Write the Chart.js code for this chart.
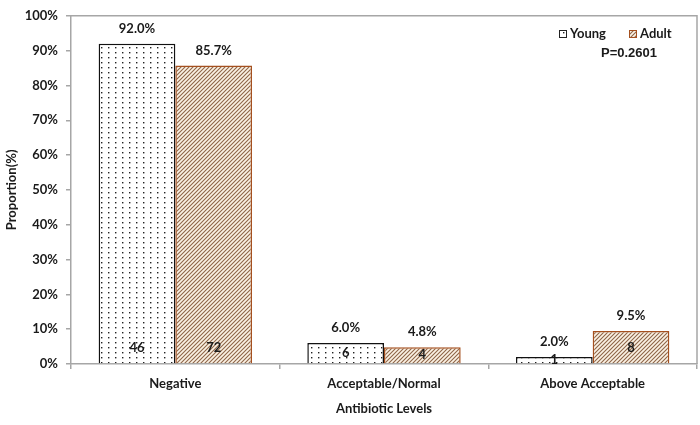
<!DOCTYPE html>
<html lang="en">
<head>
<meta charset="UTF-8">
<script src="https://cdn.jsdelivr.net/npm/chart.js"></script>
<title>Antibiotic Levels</title>
<style>
  body { margin: 0; background: #fff; }
  canvas { display: block; }
</style>
</head>
<body>
<canvas id="chart" width="700" height="425"></canvas>
<script>
// data
const categories = ['Negative', 'Acceptable/Normal', 'Above Acceptable'];
const youngPct = [92.0, 6.0, 2.0];
const adultPct = [85.7, 4.8, 9.5];
const youngCount = [46, 6, 1];
const adultCount = [72, 4, 8];
const yTicks = [0, 10, 20, 30, 40, 50, 60, 70, 80, 90, 100];
const pValue = 'P=0.2601';

const brown = '#a5501f';
const axisGray = '#a6a6a6';
const textColor = '#1a1a1a';
const labelFont = 'bold 13px Lato, "Open Sans", sans-serif';

// dotted fill for Young
function dotPattern() {
    const c = document.createElement('canvas');
    c.width = 7; c.height = 5;
    const g = c.getContext('2d');
    g.fillStyle = '#fff';
    g.fillRect(0, 0, 7, 5);
    g.fillStyle = '#222';
    g.fillRect(3, 2, 1.4, 1.4);
    return g.createPattern(c, 'repeat');
}

// diagonal hatch for Adult
function hatchPattern() {
    const s = 4;
    const c = document.createElement('canvas');
    c.width = s; c.height = s;
    const g = c.getContext('2d');
    g.fillStyle = '#fbf2e4';
    g.fillRect(0, 0, s, s);
    g.strokeStyle = '#8e6548';
    g.lineWidth = 1.1;
    g.beginPath();
    g.moveTo(0, s); g.lineTo(s, 0);
    g.moveTo(-1, 1); g.lineTo(1, -1);
    g.moveTo(s - 1, s + 1); g.lineTo(s + 1, s - 1);
    g.stroke();
    return g.createPattern(c, 'repeat');
}

const dots = dotPattern();
const hatch = hatchPattern();

const labelsPlugin = {
    id: 'barLabels',
    afterDatasetsDraw(chart) {
        const ctx = chart.ctx;
        const counts = [youngCount, adultCount];
        ctx.save();
        ctx.font = labelFont;
        ctx.fillStyle = textColor;
        ctx.textAlign = 'center';
        ctx.textBaseline = 'middle';
        chart.data.datasets.forEach((ds, di) => {
            chart.getDatasetMeta(di).data.forEach((bar, i) => {
                ctx.fillText(ds.data[i].toFixed(1) + '%', bar.x, bar.y - 15);
                const cy = Math.max(bar.base - 15, (bar.y + bar.base) / 2);
                ctx.fillText(String(counts[di][i]), bar.x, cy);
            });
        });
        ctx.restore();
    },
    afterDraw(chart) {
        const ctx = chart.ctx;
        const a = chart.chartArea;
        ctx.save();
        // top and right frame
        ctx.strokeStyle = axisGray;
        ctx.lineWidth = 1.5;
        ctx.beginPath();
        ctx.moveTo(a.left, a.top);
        ctx.lineTo(a.right, a.top);
        ctx.lineTo(a.right, a.bottom);
        ctx.stroke();

        // legend
        ctx.font = labelFont;
        ctx.fillStyle = textColor;
        ctx.textBaseline = 'middle';
        ctx.textAlign = 'left';
        const ly = 34;
        ctx.fillStyle = dots;
        ctx.fillRect(559, ly - 4, 8, 8);
        ctx.strokeStyle = '#222';
        ctx.lineWidth = 1;
        ctx.strokeRect(559.5, ly - 3.5, 7, 7);
        ctx.fillStyle = textColor;
        ctx.fillText('Young', 570, ly);

        ctx.fillStyle = hatch;
        ctx.fillRect(629, ly - 4, 8, 8);
        ctx.strokeStyle = brown;
        ctx.strokeRect(629.5, ly - 3.5, 7, 7);
        ctx.fillStyle = textColor;
        ctx.fillText('Adult', 640, ly);

        ctx.font = 'bold 13px "Liberation Sans", Arial, sans-serif';
        ctx.fillText(pValue, 601, 53);
        ctx.restore();
    }
};

new Chart(document.getElementById('chart'), {
    type: 'bar',
    data: {
        labels: categories,
        datasets: [
            {
                label: 'Young',
                data: youngPct,
                backgroundColor: dots,
                borderColor: '#111',
                borderWidth: 1.5,
                borderSkipped: 'bottom'
            },
            {
                label: 'Adult',
                data: adultPct,
                backgroundColor: hatch,
                borderColor: brown,
                borderWidth: 1.5,
                borderSkipped: 'bottom'
            }
        ]
    },
    options: {
        responsive: false,
        animation: false,
        events: [],
        layout: { padding: { left: 4, top: 12, right: 3, bottom: 4 } },
        datasets: {
            bar: { categoryPercentage: 0.735, barPercentage: 1 }
        },
        plugins: {
            legend: { display: false },
            tooltip: { enabled: false }
        },
        scales: {
            x: {
                grid: { display: true, drawOnChartArea: false, offset: true, tickLength: 5, color: axisGray, lineWidth: 1.5 },
                border: { color: axisGray, width: 1.5 },
                ticks: { color: textColor, font: { family: 'Lato', size: 13, weight: 'bold' }, padding: 7 },
                title: {
                    display: true,
                    text: 'Antibiotic Levels',
                    color: textColor,
                    font: { family: 'Lato', size: 13, weight: 'bold' },
                    padding: { top: 14 }
                },
                afterFit(scale) { scale.height = 57; }
            },
            y: {
                min: 0,
                max: 100,
                afterBuildTicks(scale) { scale.ticks = yTicks.map(v => ({ value: v })); },
                grid: { display: true, drawOnChartArea: false, tickLength: 5, color: axisGray, lineWidth: 1.5 },
                border: { color: axisGray, width: 1.5 },
                ticks: {
                    color: textColor,
                    font: { family: 'Lato', size: 13, weight: 'bold' },
                    padding: 8,
                    callback: v => v + '%'
                },
                title: {
                    display: true,
                    text: 'Proportion(%)',
                    color: textColor,
                    font: { family: 'Lato', size: 13, weight: 'bold' },
                    padding: 0
                },
                afterFit(scale) { scale.width = 67; }
            }
        }
    },
    plugins: [labelsPlugin]
});
</script>
</body>
</html>
